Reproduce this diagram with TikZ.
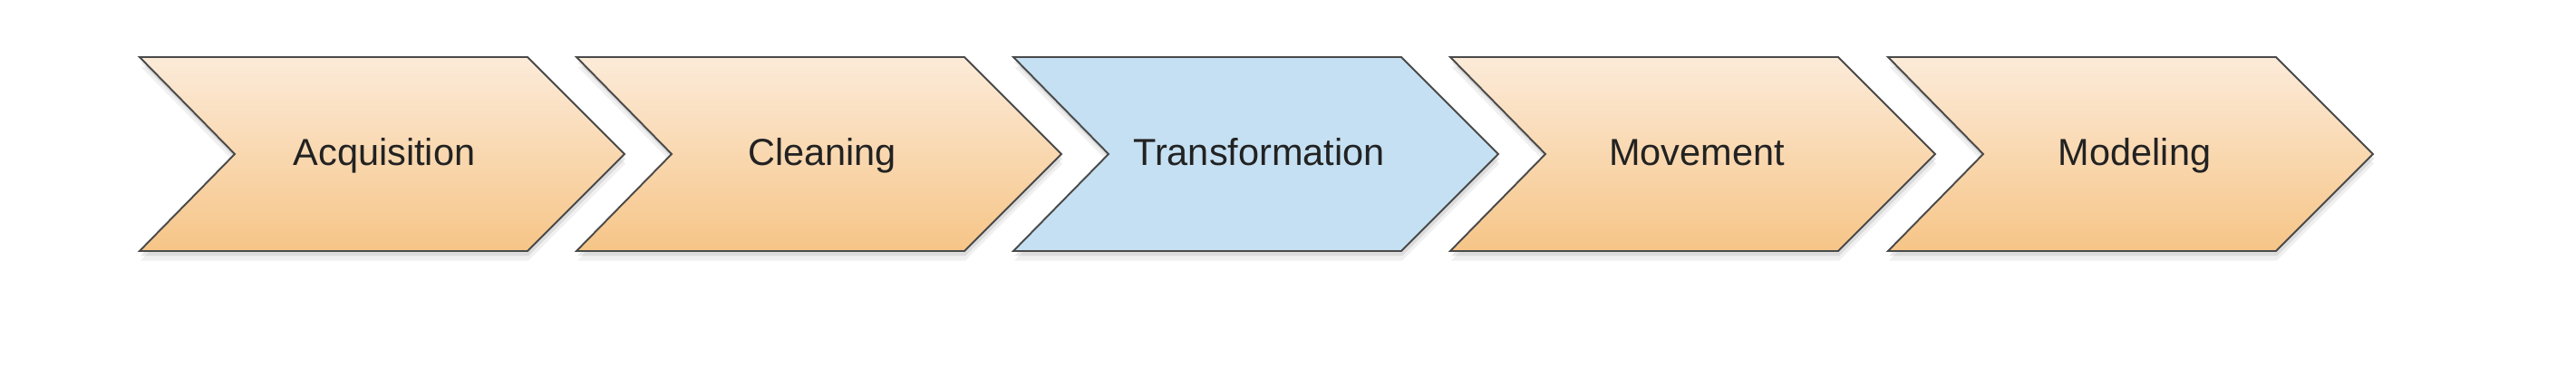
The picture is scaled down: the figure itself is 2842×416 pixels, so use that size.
\documentclass[tikz,border=0pt]{standalone}
\usepackage{fontspec}
\setmainfont{Liberation Sans}
\usepackage{tikz}
\usetikzlibrary{shadows}

\definecolor{peachtop}{HTML}{FCEBD9}
\definecolor{peachbot}{HTML}{F6C587}
\definecolor{paleblue}{HTML}{C4E0F2}
\definecolor{edgegray}{HTML}{4A4A4A}
\definecolor{textgray}{HTML}{222222}

\tikzset{
  stage/.style={draw=edgegray, line width=0.55pt, line join=miter,
    top color=peachtop, bottom color=peachbot,
    drop shadow={opacity=0.12, shadow xshift=0.3pt, shadow yshift=-3pt},
    drop shadow={opacity=0.18, shadow xshift=0.3pt, shadow yshift=-1.5pt}},
  current/.style={stage, top color=paleblue, bottom color=paleblue},
  label/.style={font=\fontsize{11.8}{14}\selectfont, text=textgray, anchor=base, inner sep=0pt}
}

\begin{document}
\begin{tikzpicture}[x=0.01cm,y=0.01cm]
        \useasboundingbox (0,0) rectangle (2842,416);

        % chevrons: left edge, notch, body, tip
        \foreach \L/\kind in {154/stage,636/stage,1118/current,1600/stage,2083/stage}
          \path[\kind] (\L,353) -- ++(428,0) -- ++(107,-107) -- ++(-107,-107)
            -- (\L,139) -- ++(105,107) -- cycle;

        \node[label] (acq) at (424,233) {Acquisition};
        \node[label] (cln) at (907,233) {Cleaning};
        \node[label] (trf) at (1389,233) {Transformation};
        \node[label] (mov) at (1872,233) {Movement};
        \node[label] (mdl) at (2355,233) {Modeling};
      \end{tikzpicture}
\end{document}
